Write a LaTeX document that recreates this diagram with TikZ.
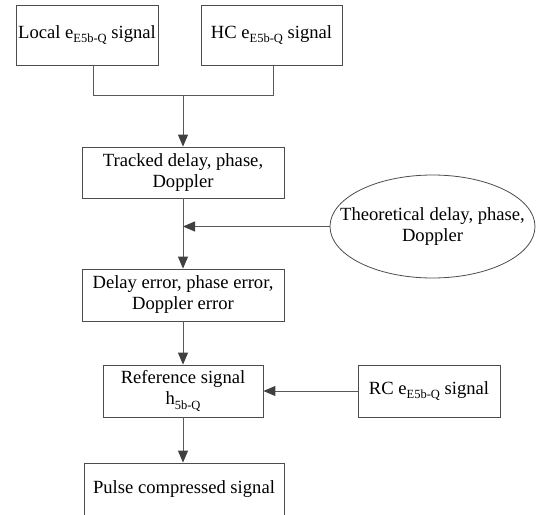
\documentclass[tikz,border=0pt]{standalone}
\usepackage{fontspec}
\setmainfont{Liberation Serif}
\usetikzlibrary{arrows.meta,shapes.geometric}
% lowered small-size index, e.g. e_{E5b-Q}
\newcommand{\lowidx}[1]{\raisebox{-0.25em}{\fontsize{12.5}{12.5}\selectfont #1}}
\tikzset{
  txt/.style={align=center, font=\fontsize{18.6}{21}\selectfont, inner sep=2pt},
  blk/.style={txt, draw=black!70, line width=0.8pt, fill=white},
  oval/.style={draw=black!70, line width=0.8pt, fill=white, ellipse, inner sep=0pt},
  conn/.style={draw=black!65, line width=0.9pt},
  flow/.style={conn, -{Triangle[length=12pt,width=10pt,color=black!75]}}
}
\begin{document}
\begin{tikzpicture}[x=1pt,y=-1pt]
\useasboundingbox (0,0) rectangle (538,514);
\begin{scope}
\clip (0,0) rectangle (538,514);
\node[blk, minimum width=142pt, minimum height=60pt] (local) at (87,35) {Local e\lowidx{E5b-Q} signal};
\node[blk, minimum width=141pt, minimum height=60pt] (hc) at (271.5,35) {HC e\lowidx{E5b-Q} signal};
\node[blk, minimum width=202pt, minimum height=51pt] (tracked) at (183,172.5) {Tracked delay, phase,\\Doppler};
\node[oval, minimum width=205pt, minimum height=103pt] (theo) at (432.5,226.5) {};
\node[txt] (theotext) at (theo.center) {Theoretical delay, phase,\\Doppler};
\node[blk, minimum width=202pt, minimum height=52pt] (delay) at (183,295) {Delay error, phase error,\\Doppler error};
\node[blk, minimum width=160pt, minimum height=52pt] (ref) at (183,391) {Reference signal\\h\lowidx{5b-Q}};
\node[blk, minimum width=142pt, minimum height=52pt] (rc) at (429,391) {RC e\lowidx{E5b-Q} signal};
\node[blk, minimum width=200pt, minimum height=52pt] (pulse) at (184,489) {Pulse compressed signal};

\coordinate (join) at (183,95);
\coordinate (lfoot) at ([xshift=6pt]local.south);
\coordinate (hfoot) at ([xshift=2pt]hc.south);
\draw[conn] (lfoot) -- (lfoot |- join) -- (hfoot |- join) -- (hfoot);
\draw[flow] (join) -- (tracked.north);
\draw[flow] (tracked.south) -- (delay.north);
\draw[flow] (theo.west) -- (tracked.south |- theo.west);
\draw[flow] (delay.south) -- (ref.north);
\draw[flow] (rc.west) -- (ref.east);
\draw[flow] (ref.south) -- (ref.south |- pulse.north);
\end{scope}
\end{tikzpicture}
\end{document}
